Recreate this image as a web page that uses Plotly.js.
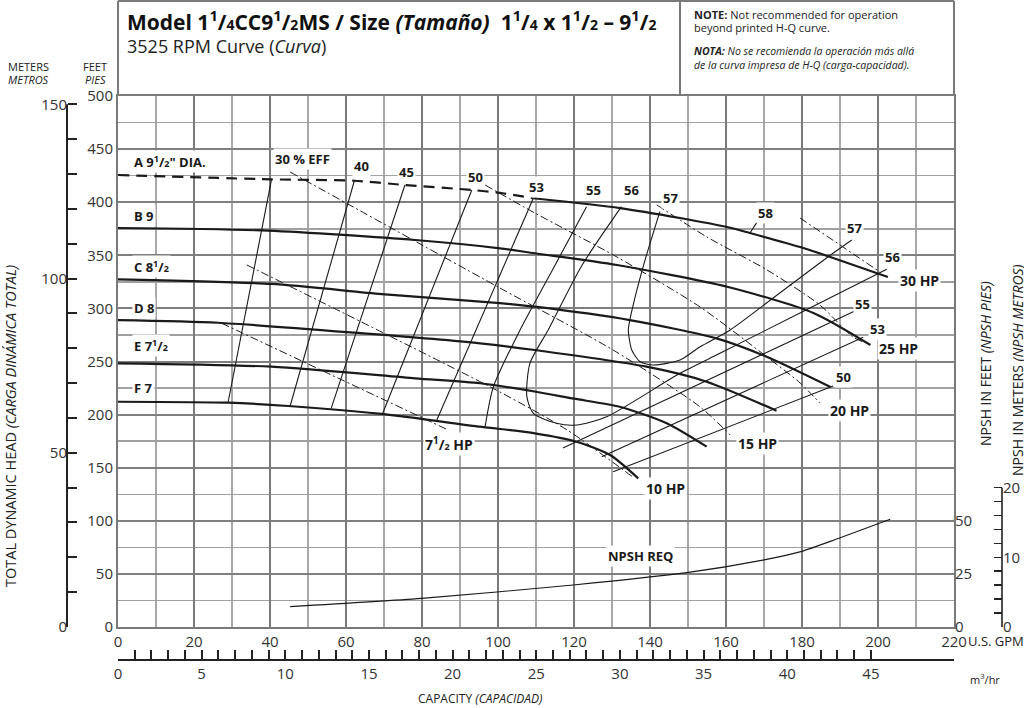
<!DOCTYPE html>
<html><head><meta charset="utf-8">
<script src="https://cdn.plot.ly/plotly-3.0.1.min.js"></script>
<style>html,body{margin:0;padding:0;background:#fff}#c{width:1024px;height:708px}</style>
</head><body><div id="c"></div>
<script>
// ---------- tick values ----------
const gpmTicks = [0,20,40,60,80,100,120,140,160,180,200,220];
const ftTicks = [0,50,100,150,200,250,300,350,400,450,500];
const meterLabelVals = [0,50,100,150];
const meterTicks = [0,10,20,30,40,50,60,70,80,90,100,110,120,130,140,150];
const m3hLabelVals = [0,5,10,15,20,25,30,35,40,45];
const m3hTicks = [0,1,2,3,4,5,6,7,8,9,10,11,12,13,14,15,16,17,18,19,20,21,22,23,24,25,26,27,28,29,30,31,32,33,34,35,36,37,38,39,40,41,42,43,44,45];
const npshFtTicks = [0,25,50];
const npshMLabelVals = [0,10,20];
const npshMTicks = [0,2,4,6,8,10,12,14,16,18,20];

// ---------- impeller curves (GPM, feet) ----------
const aDashQ = [0, 40.4, 62.2, 75.5, 93.1, 100.5, 109.3];
const aDashH = [425.6, 421.5, 420.2, 416.2, 411.5, 408.7, 403.7];
const aQ = [109.3, 132.1, 147.9, 160.3, 166.3, 179.5, 188.2, 202.6];
const aH = [403.7, 394.5, 385.1, 376.6, 371, 357.8, 347.5, 329.6];
const bQ = [0, 39.5, 78.2, 100.5, 109.7, 131.3, 160.3, 183, 198];
const bH = [375.7, 373.2, 364.4, 356.6, 351.9, 340.9, 320.4, 295.7, 265.5];
const cQ = [0, 40.4, 69.4, 100.5, 109.7, 134.7, 157.5, 170.7, 187.5];
const cH = [327.4, 323, 313.5, 305, 301.6, 289, 271.8, 254.5, 226];
const dQ = [0, 26.3, 62.4, 95.3, 109.7, 139.1, 154.9, 173.3];
const dH = [289, 286.5, 277.1, 267.1, 260.8, 245.1, 231, 203.7];
const eQ = [0, 40.4, 78.2, 95.3, 110, 120, 132, 144.4, 154.9];
const eH = [248.3, 245.1, 234.2, 229.5, 221.5, 215, 207.4, 191.8, 169.8];
const fQ = [0, 29, 44.8, 69.4, 95.3, 109.7, 120.7, 129.5, 136.9];
const fH = [212.1, 211.2, 208.1, 200.6, 188.6, 182.4, 174.5, 162, 140];

// ---------- efficiency curves ----------
const e30Q = [40.4, 29.0], e30H = [421.5, 212.1];
const e40Q = [62.2, 45.3], e40H = [420.2, 208.1];
const e45Q = [75.5, 56.1], e45H = [416.2, 205.9];
const e50LQ = [93.1, 69.7], e50LH = [411.5, 201.5];
const e53LQ = [109.3, 83.9], e53LH = [403.7, 194.9];
const e55LQ = [123.3, 114.9, 105.8, 98.8, 96.6];
const e55LH = [395.8, 340, 279.7, 226.3, 188.6];
const e56Q = [132.5, 122, 113.2, 108.4, 107.6, 109.3, 115.4, 120.7, 128.6, 147.9, 158.4, 180, 202.3];
const e56H = [395.8, 340, 279.7, 248.3, 216.9, 201.2, 191.8, 190.2, 198, 238.9, 257.7, 296.6, 336.8];
const e57Q = [142.6, 138.2, 134.7, 134.3, 135.2, 137.4, 140.9, 147.9, 153.2, 161.1, 172.4, 186.8, 193.1];
const e57H = [391.1, 339.3, 289.1, 279.7, 260.8, 249.8, 246.7, 251.4, 263.9, 279.7, 309.8, 348.4, 364.4];
const e55RQ = [117.1, 193.9], e55RH = [168.5, 297.6];
const e53RQ = [127.3, 196.1], e53RH = [160.4, 272.8];
const e50RQ = [130.3, 188.2], e50RH = [146.2, 226.9];
const e58Q = [166.3, 168.1], e58H = [371, 380.8];

// ---------- horsepower lines ----------
const hp75Q = [27.3, 86.9], hp75H = [286.0, 185.5];
const hp10Q = [33.9, 100.5, 118.2, 135.5], hp10H = [340.9, 221.3, 185.5, 141.2];
const hp15Q = [45.3, 100.5, 130.3, 153.2, 161.1], hp15H = [428.4, 319.2, 260.8, 207.2, 180.8];
const hp20Q = [96.6, 109.7, 131.3, 153.2, 170.8, 179.5, 184.7];
const hp20H = [416.2, 389.8, 348.4, 301.3, 254.2, 229.8, 210.9];
const hp25Q = [141.8, 155.0, 170.8, 184.7, 193.4, 196.1];
const hp25H = [397.4, 367.2, 336.2, 303.2, 273.1, 268.4];
const hp30Q = [179.5, 200.5], hp30H = [385.1, 334.3];

// ---------- NPSH required (GPM, NPSH feet) ----------
const npshQ = [45.3, 79.9, 119.8, 149.7, 169.7, 179.7, 189.7, 203.2];
const npshFt = [9.6, 13.5, 19.8, 25.6, 31.5, 35.5, 41.8, 50.7];

// ---------- labels ----------
const impLabels = [
  ['A 9<sup>1</sup>/<span style="font-size:9px">2</span>" DIA.', 438],
  ['B 9', 387], ['C 8<sup>1</sup>/<span style="font-size:9px">2</span>', 339.3], ['D 8', 300.1],
  ['E 7<sup>1</sup>/<span style="font-size:9px">2</span>', 264.6], ['F 7', 224.8]
];
const effLabels = [
  ['30 % EFF', 48.5, 440.4], ['40', 64, 434.1], ['45', 75.9, 428.7], ['50', 94.2, 424],
  ['53', 110, 414.6], ['55', 125.1, 411.5], ['56', 135, 411.5], ['57', 145.5, 403.7],
  ['58', 170.3, 389.5], ['57', 193.7, 375.4], ['56', 203.8, 348.7], ['55', 195.9, 303.9],
  ['53', 199.9, 280.3], ['50', 191, 235.1]
];
const hpLabels = [
  ['30 HP', 211, 326.7], ['25 HP', 205.3, 262.4], ['20 HP', 192.6, 204.3],
  ['15 HP', 168.3, 173], ['10 HP', 144, 130.6], ['7<sup>1</sup>/<span style="font-size:9px">2</span> HP', 87.1, 172.3]
];

// ---------- layout helpers ----------
const FONT = 'Open Sans, Noto Sans, sans-serif';
const INK = '#1a1a1a';
const L = 67, R = 1002, T = 96, B = 660;
const PX = x => (x - L) / (R - L);
const PY = y => (B - y) / (B - T);

const traces = [];
function line(q, h, w, dash, yaxis) {
  traces.push({x: q, y: h, type: 'scatter', mode: 'lines', hoverinfo: 'skip', showlegend: false,
    yaxis: yaxis || 'y',
    line: {color: INK, width: w, dash: dash || 'solid', shape: 'spline', smoothing: 0.7}});
}
line(aDashQ, aDashH, 2.2, '11px,7px');
[[aQ,aH],[bQ,bH],[cQ,cH],[dQ,dH],[eQ,eH],[fQ,fH]].forEach(p => line(p[0], p[1], 2.2));
[[e30Q,e30H],[e40Q,e40H],[e45Q,e45H],[e50LQ,e50LH],[e53LQ,e53LH],[e55LQ,e55LH],[e56Q,e56H],
 [e57Q,e57H],[e55RQ,e55RH],[e53RQ,e53RH],[e50RQ,e50RH],[e58Q,e58H]].forEach(p => line(p[0], p[1], 1.1));
[[hp75Q,hp75H],[hp10Q,hp10H],[hp15Q,hp15H],[hp20Q,hp20H],[hp25Q,hp25H],[hp30Q,hp30H]]
  .forEach(p => line(p[0], p[1], 1, '8px,3px,2px,3px'));
line(npshQ, npshFt, 1.1, 'solid', 'y3');
// carriers for the secondary scales
traces.push({x: [], y: [], type: 'scatter', yaxis: 'y2', hoverinfo: 'skip', showlegend: false});
traces.push({x: [], y: [], type: 'scatter', yaxis: 'y4', hoverinfo: 'skip', showlegend: false});
traces.push({x: [], y: [], type: 'scatter', xaxis: 'x2', yaxis: 'y', hoverinfo: 'skip', showlegend: false});

const ann = [];
function txt(text, x, y, o) {
  ann.push(Object.assign({text: text, x: x, y: y, xref: 'x', yref: 'y', showarrow: false,
    xanchor: 'center', yanchor: 'middle',
    font: {family: FONT, size: 13, color: INK, weight: 700}}, o || {}));
}
function ptxt(text, x, y, o) {
  txt(text, PX(x), PY(y), Object.assign({xref: 'paper', yref: 'paper'}, o || {}));
}
impLabels.forEach(l => txt(l[0], 3.6, l[1], {xanchor: 'left', bgcolor: '#fff', borderpad: 1}));
effLabels.forEach(l => txt(l[0], l[1], l[2], {bgcolor: '#fff', borderpad: 1}));
hpLabels.forEach(l => txt(l[0], l[1], l[2], {bgcolor: '#fff', borderpad: 1, font: {family: FONT, size: 14, color: INK, weight: 700}}));
txt('NPSH REQ', 137.4, 66.9, {bgcolor: '#fff', borderpad: 1});

const reg = (s, it) => ({family: FONT, size: s, color: '#222', weight: 400, style: it ? 'italic' : 'normal'});
const fr = d => '<span style="font-size:14px">' + d + '</span>';
ptxt('<b>Model 1<sup>1</sup>/' + fr('4') + 'CC9<sup>1</sup>/' + fr('2') + 'MS / Size <i>(Tamaño)</i>\u00a0 1<sup>1</sup>/' + fr('4') +
     ' x 1<sup>1</sup>/' + fr('2') + ' – 9<sup>1</sup>/' + fr('2') + '</b>',
  125, 21, {xanchor: 'left', font: {family: FONT, size: 21, color: '#111', weight: 700}});
ptxt('3525 RPM Curve (<i>Curva</i>)', 125, 46, {xanchor: 'left', font: reg(18)});
ptxt('<b>NOTE:</b> Not recommended for operation', 692, 14, {xanchor: 'left', font: reg(11)});
ptxt('beyond printed H-Q curve.', 692, 28, {xanchor: 'left', font: reg(11)});
ptxt('<b>NOTA:</b> No se recomienda la operación más allá', 692, 51, {xanchor: 'left', font: reg(10.5, true)});
ptxt('de la curva impresa de H-Q (carga-capacidad).', 692, 65, {xanchor: 'left', font: reg(10.5, true)});
ptxt('METERS', 28, 66, {font: reg(11)});
ptxt('METROS', 28, 80, {font: reg(11, true)});
ptxt('FEET', 95, 66, {font: reg(11)});
ptxt('PIES', 95, 80, {font: reg(11, true)});
ptxt('TOTAL DYNAMIC HEAD <i>(CARGA DINÁMICA TOTAL)</i>', 10, 426, {textangle: -90, font: reg(14.5)});
ptxt('NPSH IN FEET <i>(NPSH PIES)</i>', 985, 364, {textangle: -90, font: reg(14)});
ptxt('NPSH IN METERS <i>(NPSH METROS)</i>', 1017, 370, {textangle: -90, font: reg(14)});
ptxt('U.S. GPM', 966, 641, {xanchor: 'left', font: reg(13)});
ptxt('m<sup>3</sup>/hr', 968, 679, {xanchor: 'left', font: reg(11)});
ptxt('CAPACITY <i>(CAPACIDAD)</i>', 480, 698, {font: reg(12)});

const frame = '#7a7a7a';
const shapes = [
  {type: 'line', xref: 'paper', yref: 'paper', x0: PX(118), x1: PX(954), y0: PY(1), y1: PY(1), line: {color: frame, width: 2}},
  {type: 'line', xref: 'paper', yref: 'paper', x0: PX(118), x1: PX(118), y0: PY(1), y1: PY(96), line: {color: frame, width: 2}},
  {type: 'line', xref: 'paper', yref: 'paper', x0: PX(680), x1: PX(680), y0: PY(1), y1: PY(96), line: {color: frame, width: 2}},
  {type: 'line', xref: 'paper', yref: 'paper', x0: PX(954), x1: PX(954), y0: PY(1), y1: PY(96), line: {color: frame, width: 2}},
  {type: 'line', xref: 'paper', yref: 'y2', x0: 0, x1: 0, y0: 0, y1: 150, line: {color: '#222', width: 2}},
  {type: 'line', xref: 'paper', yref: 'y4', x0: 1, x1: 1, y0: 0, y1: 20, line: {color: '#222', width: 1.6}}
];

const tickFont = {family: FONT, size: 15, color: '#333', weight: 400};
const layout = {
  width: 1024, height: 708,
  margin: {l: L, r: 1024 - R, t: T, b: 708 - B, pad: 0},
  paper_bgcolor: '#fff', plot_bgcolor: 'rgba(0,0,0,0)',
  showlegend: false,
  font: {family: FONT},
  xaxis: {domain: [PX(118), PX(954)], range: [0, 220], tickvals: gpmTicks, ticks: '',
    showgrid: true, gridcolor: '#7a7a7a', gridwidth: 2,
    minor: {dtick: 10, tick0: 0, showgrid: true, gridcolor: '#a8a8a8', gridwidth: 1.5, ticks: ''},
    zeroline: false, showline: true, mirror: true, linecolor: frame, linewidth: 2,
    tickfont: tickFont, fixedrange: true},
  xaxis2: {overlaying: 'x', anchor: 'free', position: 0, side: 'bottom', range: [0, 220 / 4.402868],
    tickmode: 'array', tickvals: m3hLabelVals,
    ticks: 'inside', ticklen: 9, tickwidth: 2, tickcolor: '#222',
    minor: {tickmode: 'array', tickvals: m3hTicks, ticks: 'inside', ticklen: 9, tickwidth: 2, tickcolor: '#222', showgrid: false},
    showgrid: false, zeroline: false, showline: true, linecolor: '#222', linewidth: 2,
    tickfont: tickFont},
  yaxis: {domain: [PY(627), 1], range: [0, 500], tickvals: ftTicks, ticks: '',
    showgrid: true, gridcolor: '#7f7f7f', gridwidth: 2,
    minor: {dtick: 25, tick0: 0, showgrid: true, gridcolor: '#a0a0a0', gridwidth: 1.5, ticks: ''},
    zeroline: false, showline: true, mirror: true, linecolor: frame, linewidth: 2,
    tickfont: tickFont, fixedrange: true},
  yaxis2: {overlaying: 'y', anchor: 'free', position: 0, side: 'left', range: [0, 500 * 0.3048],
    tickmode: 'array', tickvals: meterLabelVals, ticks: 'inside', ticklen: 9, tickwidth: 2, tickcolor: '#222',
    minor: {tickmode: 'array', tickvals: meterTicks, ticks: 'inside', ticklen: 9, tickwidth: 2, tickcolor: '#222', showgrid: false},
    showgrid: false, zeroline: false, showline: false, tickfont: tickFont},
  yaxis3: {overlaying: 'y', anchor: 'x', side: 'right', range: [0, 250], tickvals: npshFtTicks, ticks: '',
    showgrid: false, zeroline: false, showline: false, tickfont: tickFont},
  yaxis4: {overlaying: 'y', anchor: 'free', position: 1, side: 'right', range: [0, 250 * 0.3048],
    tickmode: 'array', tickvals: npshMLabelVals, ticks: 'inside', ticklen: 8, tickwidth: 1.6, tickcolor: '#222',
    minor: {tickmode: 'array', tickvals: npshMTicks, ticks: 'inside', ticklen: 8, tickwidth: 1.6, tickcolor: '#222', showgrid: false},
    showgrid: false, zeroline: false, showline: false, tickfont: tickFont},
  annotations: ann,
  shapes: shapes
};
Plotly.newPlot('c', traces, layout, {displayModeBar: false, staticPlot: true});
</script></body></html>
